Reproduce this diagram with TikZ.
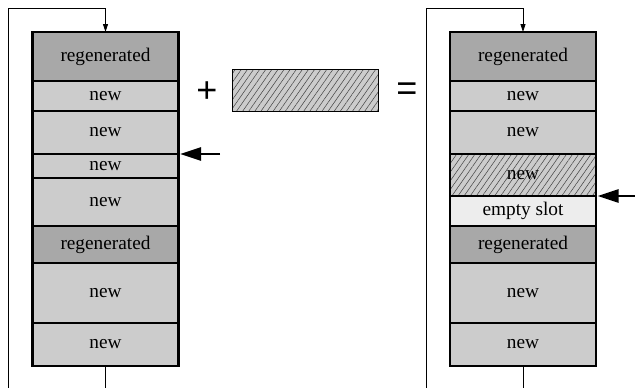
\documentclass[tikz,border=0pt]{standalone}
\usepackage{fontspec}
\setmainfont{Liberation Serif}
\newfontfamily\symfont{Liberation Sans}
\usetikzlibrary{arrows.meta,patterns.meta}
\definecolor{regencol}{gray}{0.66}
\definecolor{newcol}{gray}{0.80}
\definecolor{emptycol}{gray}{0.93}
\begin{document}
\begin{tikzpicture}[x=1pt,y=-1pt,
  cell/.style={draw, line width=1.2pt, minimum width=146pt, inner sep=0pt, outer sep=0pt,
    font=\fontsize{19.3}{22}\selectfont, anchor=north},
  regencell/.style={cell, fill=regencol},
  newcell/.style={cell, fill=newcol},
  emptycell/.style={cell, fill=emptycol},
  hatchcell/.style={cell, preaction={fill=newcol},
    pattern={Lines[angle=55,distance=5pt,line width=0.5pt]}, pattern color=black!75},
  frame/.style={line width=2.2pt},
  loopline/.style={line width=0.8pt},
  looparrow/.style={loopline, -{Triangle[length=8pt,width=5pt]}},
  bigarrow/.style={line width=2.6pt, -{Triangle[length=21pt,width=13pt]}},
  sym/.style={font=\symfont\fontsize{36}{40}\selectfont, inner sep=0pt}
]
\useasboundingbox (0,0) rectangle (635,388);

% left column
\node[regencell, minimum height=49pt] (L1) at (105.5,32) {regenerated};
\node[newcell,   minimum height=30pt] (L2) at (105.5,81) {new};
\node[newcell,   minimum height=43pt] (L3) at (105.5,111) {new};
\node[newcell,   minimum height=24pt] (L4) at (105.5,154) {new};
\node[newcell,   minimum height=48pt] (L5) at (105.5,178) {new};
\node[regencell, minimum height=37pt] (L6) at (105.5,226) {regenerated};
\node[newcell,   minimum height=60pt] (L7) at (105.5,263) {new};
\node[newcell,   minimum height=43pt] (L8) at (105.5,323) {new};
\draw[frame] (L1.north west) rectangle (L8.south east);

% right column
\node[regencell, minimum height=49pt] (R1) at (523,32) {regenerated};
\node[newcell,   minimum height=30pt] (R2) at (523,81) {new};
\node[newcell,   minimum height=43pt] (R3) at (523,111) {new};
\node[hatchcell, minimum height=42pt] (R4) at (523,154) {new};
\node[emptycell, minimum height=30pt] (R5) at (523,196) {empty slot};
\node[regencell, minimum height=37pt] (R6) at (523,226) {regenerated};
\node[newcell,   minimum height=60pt] (R7) at (523,263) {new};
\node[newcell,   minimum height=43pt] (R8) at (523,323) {new};
\draw[frame] (R1.north west) rectangle (R8.south east);

% middle
\node[sym] (plus) at (207,92) {+};
\node[draw, line width=1pt, minimum width=146pt, minimum height=42pt, inner sep=0pt,
  preaction={fill=newcol}, pattern={Lines[angle=55,distance=5pt,line width=0.5pt]},
  pattern color=black!75] (block) at (305,90) {};
\node[sym] (eq) at (407,92) {=};

% loops
\coordinate (Lbot) at (105.5,388);
\coordinate (Lleft) at (8,388);
\coordinate (Ltop) at (8,8);
\draw[loopline] (L8.south) -- (Lbot);
\draw[looparrow] (Lleft) -- (Ltop) -| (L1.north);

\coordinate (Rbot) at (523,388);
\coordinate (Rleft) at (426.5,388);
\coordinate (Rtop) at (426.5,8);
\draw[loopline] (R8.south) -- (Rbot);
\draw[looparrow] (Rleft) -- (Rtop) -| (R1.north);

% insertion arrows
\coordinate (La) at (220,154);
\draw[bigarrow] (La) -- ([xshift=1.5pt]L4.north east);
\coordinate (Ra) at (635,196);
\draw[bigarrow] (Ra) -- ([xshift=1.5pt]R5.north east);
\end{tikzpicture}
\end{document}
